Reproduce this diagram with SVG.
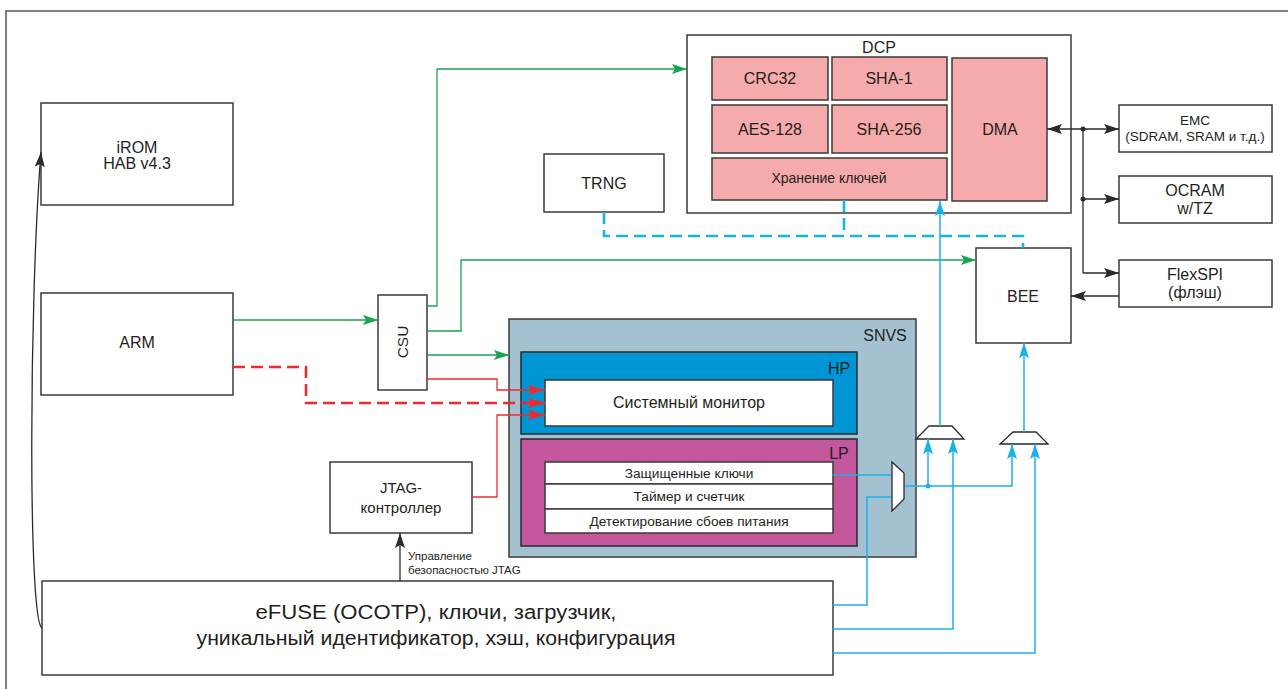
<svg xmlns="http://www.w3.org/2000/svg" width="1288" height="689" viewBox="0 0 1288 689">
<defs>
<style>
.box{fill:#fff;stroke:#3a3a3a;stroke-width:1.5}
.pink{fill:#f5aaab;stroke:#3a3a3a;stroke-width:1.5}
.t{font-family:"Liberation Sans",Arial,sans-serif;fill:#231f20;text-anchor:middle}
.g{stroke:#1aa352;stroke-width:1.3;fill:none}
.r{stroke:#ee2a2f;stroke-width:1.3;fill:none}
.rd{stroke:#ee2a2f;stroke-width:2.6;fill:none;stroke-dasharray:12 6}
.b{stroke:#1ab0ea;stroke-width:1.5;fill:none}
.bd{stroke:#1ab0ea;stroke-width:2.6;fill:none;stroke-dasharray:12 6}
.k{stroke:#2a2a2a;stroke-width:1.3;fill:none}
</style>
<marker id="ag" markerWidth="16" markerHeight="10" refX="15" refY="5" orient="auto" markerUnits="userSpaceOnUse"><path d="M0,0 L15,5 L0,10 L3,5 Z" fill="#1aa352"/></marker>
<marker id="ar" markerWidth="18" markerHeight="10" refX="17" refY="5" orient="auto" markerUnits="userSpaceOnUse"><path d="M0,0 L17,5 L0,10 L3,5 Z" fill="#ee2a2f"/></marker>
<marker id="ab" markerWidth="16" markerHeight="10" refX="15" refY="5" orient="auto" markerUnits="userSpaceOnUse"><path d="M0,0 L15,5 L0,10 L3,5 Z" fill="#1ab0ea"/></marker>
<marker id="ak" markerWidth="16" markerHeight="10" refX="15" refY="5" orient="auto" markerUnits="userSpaceOnUse"><path d="M0,0 L15,5 L0,10 L3,5 Z" fill="#2a2a2a"/></marker>
<marker id="aks" markerWidth="16" markerHeight="10" refX="15" refY="5" orient="auto-start-reverse" markerUnits="userSpaceOnUse"><path d="M0,0 L15,5 L0,10 L3,5 Z" fill="#2a2a2a"/></marker>
</defs>
<rect width="1288" height="689" fill="#fff"/>
<rect x="6" y="11" width="1290" height="700" fill="none" stroke="#555" stroke-width="1.5"/>

<g id="irom"><rect class="box" x="41" y="103" width="192" height="102"/>
<text class="t" x="137" y="153" font-size="16">iROM</text><text class="t" x="137" y="169" font-size="16">HAB v4.3</text></g>
<g id="arm"><rect class="box" x="41" y="293" width="192" height="102"/>
<text class="t" x="137" y="348" font-size="16">ARM</text></g>
<g id="csu"><rect class="box" x="378" y="295" width="49" height="95"/>
<text class="t" x="0" y="0" font-size="15.5" transform="translate(408,342) rotate(-90)">CSU</text></g>
<g id="trng"><rect class="box" x="544" y="154" width="120" height="58"/>
<text class="t" x="604" y="189" font-size="16">TRNG</text></g>
<g id="jtag"><rect class="box" x="330" y="462" width="142" height="71"/>
<text class="t" x="401" y="493" font-size="15">JTAG-</text><text class="t" x="401" y="513" font-size="15">контроллер</text></g>
<g id="efuse"><rect class="box" x="42" y="581" width="791" height="94"/>
<text class="t" x="436" y="619" font-size="20" textLength="361" lengthAdjust="spacingAndGlyphs">eFUSE (OCOTP), ключи, загрузчик,</text>
<text class="t" x="436" y="645" font-size="20" textLength="479" lengthAdjust="spacingAndGlyphs">уникальный идентификатор, хэш, конфигурация</text></g>

<g id="dcp"><rect class="box" x="687" y="35" width="384" height="178"/>
<text class="t" x="879" y="53" font-size="16">DCP</text>
<rect class="pink" x="712" y="57" width="116" height="43"/><text class="t" x="770" y="84" font-size="16">CRC32</text>
<rect class="pink" x="832" y="57" width="115" height="43"/><text class="t" x="889" y="84" font-size="16">SHA-1</text>
<rect class="pink" x="712" y="105" width="116" height="48"/><text class="t" x="770" y="135" font-size="16">AES-128</text>
<rect class="pink" x="832" y="105" width="115" height="48"/><text class="t" x="889" y="135" font-size="16">SHA-256</text>
<rect class="pink" x="712" y="158" width="235" height="42"/><text class="t" x="829" y="183" font-size="14">Хранение ключей</text>
<rect class="pink" x="952" y="58" width="95" height="143"/><text class="t" x="1000" y="135" font-size="16">DMA</text></g>

<g id="emc"><rect class="box" x="1119" y="105" width="153" height="47"/>
<text class="t" x="1195" y="125" font-size="13.5">EMC</text><text class="t" x="1195" y="141" font-size="13.5">(SDRAM, SRAM и т.д.)</text></g>
<g id="ocram"><rect class="box" x="1119" y="176" width="153" height="47"/>
<text class="t" x="1195" y="196" font-size="16">OCRAM</text><text class="t" x="1195" y="214" font-size="16">w/TZ</text></g>
<g id="flexspi"><rect class="box" x="1119" y="260" width="153" height="47"/>
<text class="t" x="1195" y="280" font-size="16">FlexSPI</text><text class="t" x="1195" y="298" font-size="16">(флэш)</text></g>
<g id="bee"><rect class="box" x="976" y="248" width="95" height="95"/>
<text class="t" x="1023" y="302" font-size="16">BEE</text></g>

<g id="snvs"><rect x="509" y="319" width="407" height="238" fill="#a4c1d1" stroke="#3a3a3a" stroke-width="1.5"/>
<text class="t" x="885" y="341" font-size="16">SNVS</text>
<g id="hp"><rect x="521" y="352" width="336" height="82" fill="#0096d6" stroke="#2a2a2a" stroke-width="1.5"/>
<text class="t" x="839" y="374" font-size="16">HP</text>
<rect class="box" x="545" y="380" width="288" height="46"/><text class="t" x="689" y="408" font-size="16">Системный монитор</text></g>
<g id="lp"><rect x="521" y="439" width="336" height="107" fill="#c4569c" stroke="#2a2a2a" stroke-width="1.5"/>
<text class="t" x="839" y="459" font-size="16">LP</text>
<rect class="box" x="545" y="462" width="288" height="22"/><text class="t" x="689" y="478" font-size="13.7">Защищенные ключи</text>
<rect class="box" x="545" y="484" width="288" height="25"/><text class="t" x="689" y="501" font-size="13.7">Таймер и счетчик</text>
<rect class="box" x="545" y="509" width="288" height="24"/><text class="t" x="689" y="526" font-size="13.7">Детектирование сбоев питания</text></g></g>

<g id="mux1"><path d="M929,426 L952,426 L964,439 L916,439 Z" fill="#fff" stroke="#2a2a2a" stroke-width="1.3"/></g>
<g id="mux2"><path d="M1013,432 L1036,432 L1048,444 L1000,444 Z" fill="#fff" stroke="#2a2a2a" stroke-width="1.3"/></g>

<g id="connectors">
<path class="g" d="M233,320 L378,320" marker-end="url(#ag)"/>
<path class="g" d="M427,306 L437,306 L437,69 L687,69" marker-end="url(#ag)"/>
<path class="g" d="M427,331 L461,331 L461,260 L976,260" marker-end="url(#ag)"/>
<path class="g" d="M427,355 L509,355" marker-end="url(#ag)"/>
<path class="r" d="M427,379 L497,379 L497,390 L545,390" marker-end="url(#ar)"/>
<path class="rd" d="M233,367 L306,367 L306,403 L545,403" marker-end="url(#ar)"/>
<path class="r" d="M472,497 L497,497 L497,415 L545,415" marker-end="url(#ar)"/>
<path class="bd" d="M604,212 L604,236 L1023,236 L1023,248"/>
<path class="bd" d="M844,200 L844,236"/>
<path class="b" d="M940,426 L940,201" marker-end="url(#ab)"/>
<path class="b" d="M1024,432 L1024,343" marker-end="url(#ab)"/>
<path class="b" d="M833,475 L892,475"/>
<path class="b" d="M833,605 L867,605 L867,497 L892,497"/>
<path class="b" d="M904,486 L1012,486 L1012,444" marker-end="url(#ab)"/>
<path class="b" d="M928,486 L928,439" marker-end="url(#ab)"/>
<circle cx="928" cy="486" r="2.5" fill="#1ab0ea"/>
<path class="b" d="M833,629 L953,629 L953,439" marker-end="url(#ab)"/>
<path class="b" d="M833,653 L1035,653 L1035,444" marker-end="url(#ab)"/>
<path class="k" d="M1083,129 L1083,273"/>
<path class="k" d="M1047,129 L1119,129" marker-start="url(#aks)" marker-end="url(#aks)"/>
<path class="k" d="M1083,199 L1119,199" marker-end="url(#ak)"/>
<path class="k" d="M1083,273 L1119,273" marker-end="url(#ak)"/>
<path class="k" d="M1119,296 L1071,296" marker-end="url(#ak)"/>
<circle cx="1083" cy="129" r="2.5" fill="#2a2a2a"/>
<circle cx="1083" cy="199" r="2.5" fill="#2a2a2a"/>
<path class="k" d="M400,581 L400,533" marker-end="url(#ak)"/>
<path class="k" d="M42,628 C28,622 29,300 41,152" marker-end="url(#ak)"/>
<text x="408" y="560" font-family="Liberation Sans,Arial,sans-serif" font-size="11.5" fill="#231f20">Управление</text>
<text x="408" y="574" font-family="Liberation Sans,Arial,sans-serif" font-size="11.5" fill="#231f20">безопасностью JTAG</text>
</g>
<g id="mux3"><path d="M892,462 L904,473 L904,499 L892,511 Z" fill="#fff" stroke="#2a2a2a" stroke-width="1.3"/></g>
</svg>
